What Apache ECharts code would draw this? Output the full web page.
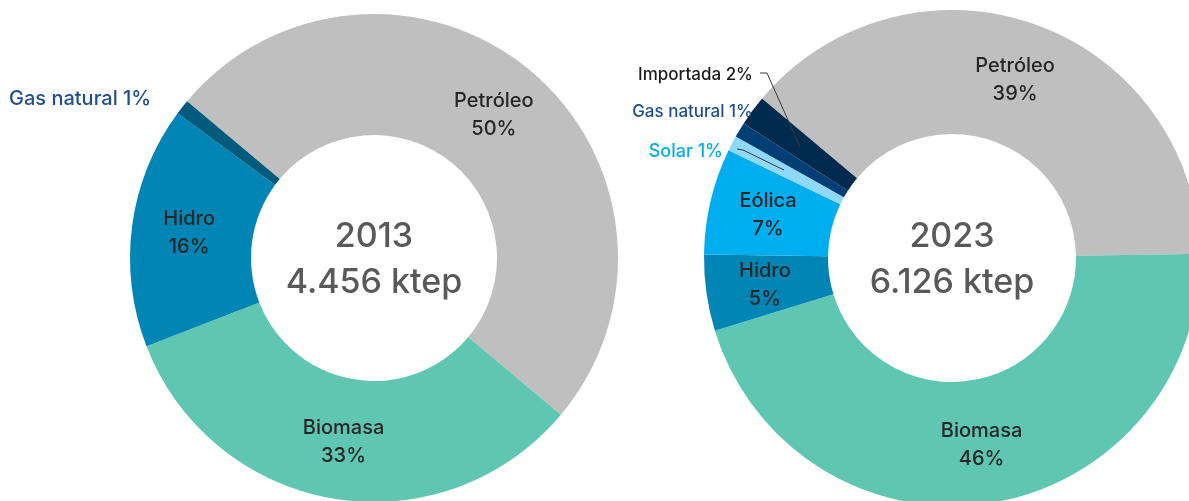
<!DOCTYPE html>
<html>
<head>
<meta charset="utf-8">
<title>Consumo de energía 2013 / 2023</title>
<script src="https://cdn.jsdelivr.net/npm/echarts@6/dist/echarts.min.js"></script>
<style>
  html, body { margin: 0; padding: 0; background: #fff; }
  #chart { width: 1189px; height: 501px; }
</style>
</head>
<body>
<div id="chart"></div>
<script>
// datos
const years = ['2013', '2023'];
const totals = ['4.456 ktep', '6.126 ktep'];

const names2013 = ['Petróleo', 'Biomasa', 'Hidro', 'Gas natural'];
const shares2013 = [50, 33, 16, 1];

const names2023 = ['Petróleo', 'Biomasa', 'Hidro', 'Eólica', 'Solar', 'Gas natural', 'Importada'];
const shares2023 = [39, 46, 5, 7, 1, 1, 2];

// colores por fuente
const colors2013 = { 'Petróleo': '#bfbfbf', 'Biomasa': '#5fc6b1', 'Hidro': '#0085b5', 'Gas natural': '#005b7c' };
const colors2023 = { 'Petróleo': '#bfbfbf', 'Biomasa': '#5fc6b1', 'Hidro': '#0085b5', 'Eólica': '#00aeef',
  'Solar': '#8fd8f7', 'Gas natural': '#003e74', 'Importada': '#012b4e' };

// etiquetas fuera del anillo (posicion del texto)
const outside2013 = {
  'Gas natural': { x: 9, y: 99, align: 'left', color: '#1f4e8c', size: 20 }
};
const outside2023 = {
  'Importada': { x: 753, y: 75, color: '#1a1a1a', size: 17 },
  'Gas natural': { x: 753, y: 112, color: '#1f4e8c', size: 17 },
  'Solar': { x: 723, y: 152, color: '#00aeef', size: 18 }
};
// lineas guia de las etiquetas pequeñas
const guides = [
  [[760, 73], [767, 73], [800, 147]],
  [[737, 149], [743, 150], [784, 170]]
];

const FONT = 'Inter, "Noto Sans", sans-serif';

function buildData(names, shares, colors, outside) {
  return names.map(function (n, i) {
    let item = { name: n, value: shares[i], itemStyle: { color: colors[n] } };
    let o = outside[n];
    if (o) {
      item.label = { position: 'outside', formatter: '{b} {c}%', color: o.color, fontSize: o.size };
      item.labelLine = { show: false };
    }
    return item;
  });
}

function pieSeries(names, shares, colors, outside, center, radius) {
  return {
    type: 'pie',
    silent: true,
    center: center,
    radius: radius,
    startAngle: 140,
    clockwise: true,
    avoidLabelOverlap: false,
    itemStyle: { borderWidth: 0 },
    label: {
      position: 'inside',
      formatter: '{b}\n{c}%',
      color: '#262626',
      fontSize: 20,
      fontWeight: 500,
      lineHeight: 28,
      fontFamily: FONT
    },
    labelLine: { show: false },
    labelLayout: function (params) {
      let o = outside[names[params.dataIndex]];
      if (!o) return {};
      return { x: o.x, y: o.y, align: o.align || 'right', verticalAlign: 'middle' };
    },
    data: buildData(names, shares, colors, outside)
  };
}

let centers = [[374, 258], [952, 258]];

let chart = echarts.init(document.getElementById('chart'));
let option = {
  animation: false,
  backgroundColor: '#fff',
  textStyle: { fontFamily: FONT },
  graphic: [],
  series: [
    pieSeries(names2013, shares2013, colors2013, outside2013, centers[0], [123, 244]),
    pieSeries(names2023, shares2023, colors2023, outside2023, centers[1], [124, 248])
  ]
};
years.forEach(function (y, i) {
  option.graphic.push({
    type: 'text', x: centers[i][0], y: 237, silent: true,
    style: { text: y, fill: '#595959', fontSize: 34, fontWeight: 500, fontFamily: FONT, align: 'center', verticalAlign: 'middle' }
  });
  option.graphic.push({
    type: 'text', x: centers[i][0], y: 283, silent: true,
    style: { text: totals[i], fill: '#595959', fontSize: 34, fontWeight: 500, fontFamily: FONT, align: 'center', verticalAlign: 'middle' }
  });
});
guides.forEach(function (pts) {
  option.graphic.push({
    type: 'polyline', silent: true, z: 10,
    shape: { points: pts },
    style: { stroke: '#3a3a3a', lineWidth: 1, fill: null }
  });
});
chart.setOption(option);
</script>
</body>
</html>
